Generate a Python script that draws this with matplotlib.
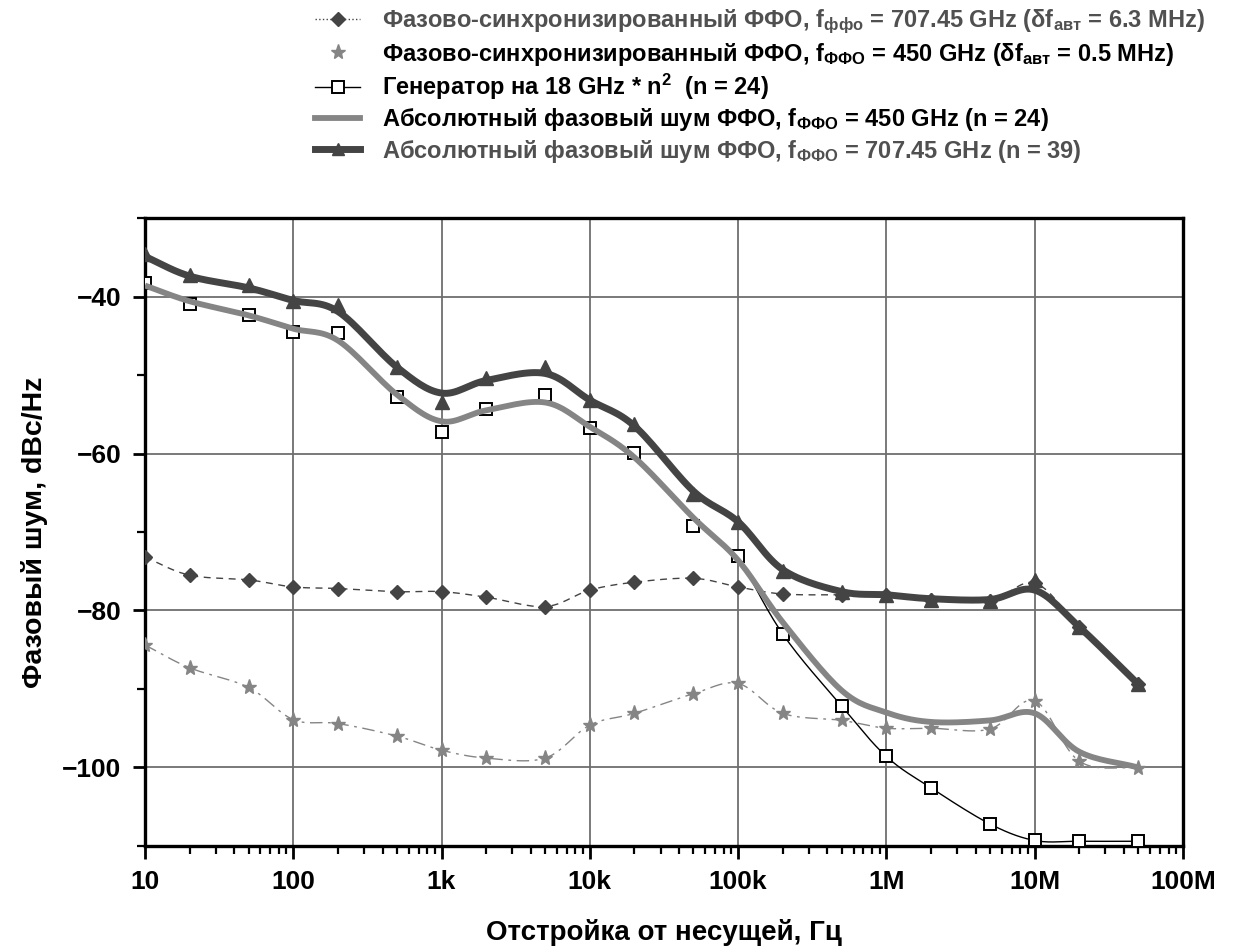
import numpy as np
import matplotlib
matplotlib.use("Agg")
import matplotlib.pyplot as plt
from matplotlib.lines import Line2D
from matplotlib.ticker import FixedLocator, LogLocator, MultipleLocator, NullFormatter

plt.rcParams['font.family'] = ['Liberation Sans', 'DejaVu Sans']
plt.rcParams['font.weight'] = 'bold'
plt.rcParams['axes.labelweight'] = 'bold'
plt.rcParams['mathtext.fontset'] = 'custom'
plt.rcParams['mathtext.rm'] = 'Liberation Sans:bold'
plt.rcParams['mathtext.it'] = 'Liberation Sans:bold'
plt.rcParams['mathtext.bf'] = 'Liberation Sans:bold'

# offset frequencies, Hz
freq = [10, 20, 50, 100, 200, 500, 1e3, 2e3, 5e3, 1e4, 2e4, 5e4, 1e5, 2e5, 5e5,
        1e6, 2e6, 5e6, 1e7, 2e7, 5e7]

# phase locked FFO 707.45 GHz (diamonds)
locked_707 = [-73.2, -75.5, -76.1, -77.0, -77.2, -77.6, -77.6, -78.3, -79.5, -77.4, -76.4,
              -75.9, -77.0, -77.9, -78.0, -78.0, -78.6, -78.8, -76.5, -82.1, -89.4]
# phase locked FFO 450 GHz (stars)
locked_450 = [-84.4, -87.3, -89.8, -93.9, -94.4, -96.0, -97.8, -98.8, -98.8, -94.6, -93.1,
              -90.6, -89.3, -93.1, -94.0, -95.0, -95.0, -95.1, -91.5, -99.2, -100.1]
# 18 GHz synthesizer * n^2 (squares)
synth = [-38.3, -41.0, -42.4, -44.5, -44.6, -52.8, -57.2, -54.3, -52.5, -56.8, -59.9,
         -69.2, -73.0, -83.0, -92.2, -98.6, -102.6, -107.2, -109.3, -109.4, -109.4]
# absolute phase noise 450 GHz (thick gray curve)
abs_450 = [-38.6, -40.6, -42.4, -44.1, -45.6, -52.5, -55.9, -54.5, -53.5, -56.6, -60.5,
           -68.2, -73.6, -81.5, -90.2, -93.0, -94.2, -94.0, -93.1, -98.0, -100.0]
# absolute phase noise 707.45 GHz: curve and triangle points
abs_707_curve = [-34.9, -37.4, -38.9, -40.5, -41.9, -49.0, -52.3, -50.7, -49.8, -53.2, -56.5,
                 -64.8, -68.7, -74.8, -77.6, -78.0, -78.5, -78.6, -77.4, -82.1, -89.4]
abs_707_pts = [-34.6, -37.3, -38.5, -40.6, -41.1, -49.0, -53.4, -50.4, -49.0, -53.2, -56.3,
               -65.1, -68.7, -75.0, -77.7, -78.0, -78.6, -78.8, -76.1, -82.1, -89.4]

xticks = [10, 100, 1e3, 1e4, 1e5, 1e6, 1e7, 1e8]
xticklabels = ['10', '100', '1k', '10k', '100k', '1M', '10M', '100M']
yticks = [-100, -80, -60, -40]

labels = [
    'Фазово-синхронизированный ФФО, f$_{\\mathregular{ффо}}$ = 707.45 GHz (δf$_{\\mathregular{авт}}$ = 6.3 MHz)',
    'Фазово-синхронизированный ФФО, f$_{\\mathregular{ФФО}}$ = 450 GHz (δf$_{\\mathregular{авт}}$ = 0.5 MHz)',
    'Генератор на 18 GHz * n$^{\\mathregular{2}}$  (n = 24)',
    'Абсолютный фазовый шум ФФО, f$_{\\mathregular{ФФО}}$ = 450 GHz (n = 24)',
    'Абсолютный фазовый шум ФФО, f$_{\\mathregular{ФФО}}$ = 707.45 GHz (n = 39)',
]

DARK = '#444444'
GRAY = '#858585'


def smooth(x, y, n=16):
    # catmull-rom in log(x) space, only for drawing the connecting line
    P = np.column_stack([np.log10(x), y])
    P = np.vstack([2 * P[0] - P[1], P, 2 * P[-1] - P[-2]])
    t = np.linspace(0, 1, n, endpoint=False)[:, None]
    out = []
    for i in range(1, len(P) - 2):
        p0, p1, p2, p3 = P[i - 1], P[i], P[i + 1], P[i + 2]
        out.append(0.5 * (2 * p1 + (-p0 + p2) * t + (2 * p0 - 5 * p1 + 4 * p2 - p3) * t ** 2
                          + (-p0 + 3 * p1 - 3 * p2 + p3) * t ** 3))
    out.append(P[-2][None])
    pts = np.vstack(out)
    return 10 ** pts[:, 0], pts[:, 1]


fig = plt.figure(figsize=(12.36, 9.5), dpi=100)
ax = fig.add_axes([0.1173, 0.1095, 0.8398, 0.661])

# stars
sx, sy = smooth(freq, locked_450)
ax.plot(sx, sy, color=GRAY, lw=1.0, dashes=(9, 4, 2, 4), zorder=2)
ax.plot(freq, locked_450, ls='none', marker='*', ms=11, color=GRAY, zorder=3)
# diamonds
dx, dy = smooth(freq, locked_707)
ax.plot(dx, dy, color=DARK, lw=1.0, dashes=(5, 4), zorder=2)
ax.plot(freq, locked_707, ls='none', marker='D', ms=7.5, color=DARK, zorder=3)
# squares, connecting line only visible below the gray curve (from 100k on)
qx, qy = smooth(freq[12:], synth[12:])
ax.plot(qx, qy, color='black', lw=1.0, zorder=2)
ax.plot(freq, synth, ls='none', marker='s', ms=8, mfc='white', mec='black', mew=1.4, zorder=3)
# thick curves
gx, gy = smooth(freq, abs_450)
ax.plot(gx, gy, color=GRAY, lw=4.2, solid_capstyle='butt', zorder=4)
kx, ky = smooth(freq, abs_707_curve)
ax.plot(kx, ky, color=DARK, lw=5.0, solid_capstyle='butt', zorder=5)
ax.plot(freq, abs_707_pts, ls='none', marker='^', ms=10, color=DARK, zorder=5)

ax.set_xscale('log')
ax.set_xlim(10, 1e8)
ax.set_ylim(-110, -30)
ax.xaxis.set_major_locator(FixedLocator(xticks))
ax.set_xticklabels(xticklabels)
ax.xaxis.set_minor_locator(LogLocator(base=10, subs=np.arange(2, 10), numticks=20))
ax.xaxis.set_minor_formatter(NullFormatter())
ax.set_yticks(yticks)
ax.yaxis.set_minor_locator(MultipleLocator(10))

ax.grid(True, which='major', color='#6e6e6e', lw=1.3)
ax.set_axisbelow(True)
for sp in ax.spines.values():
    sp.set_linewidth(2.4)
ax.tick_params(which='major', direction='out', length=9, width=2, labelsize=19, pad=8)
ax.tick_params(which='minor', direction='out', length=6, width=1.6)

ax.set_xlabel('Отстройка от несущей, Гц', fontsize=20, fontweight='bold', labelpad=18)
ax.set_ylabel('Фазовый шум, dBc/Hz', fontsize=20.5, fontweight='bold', labelpad=10)

handles = [
    Line2D([], [], color=DARK, lw=1.0, ls=':', marker='D', ms=7.5),
    Line2D([], [], color=GRAY, lw=0, marker='*', ms=11),
    Line2D([], [], color='black', lw=1.0, marker='s', ms=8, mfc='white', mec='black', mew=1.4),
    Line2D([], [], color=GRAY, lw=4.2),
    Line2D([], [], color=DARK, lw=5.0, marker='^', ms=8),
]
leg = fig.legend(handles, labels, loc='upper left', bbox_to_anchor=(0.238, 1.014),
                 frameon=False, fontsize=17, handlelength=1.9, handletextpad=0.9,
                 labelspacing=0.18)
for i, txt in enumerate(leg.get_texts()):
    if i in (0, 4):
        txt.set_color('#505050')

fig.savefig('out.png', dpi=100)
